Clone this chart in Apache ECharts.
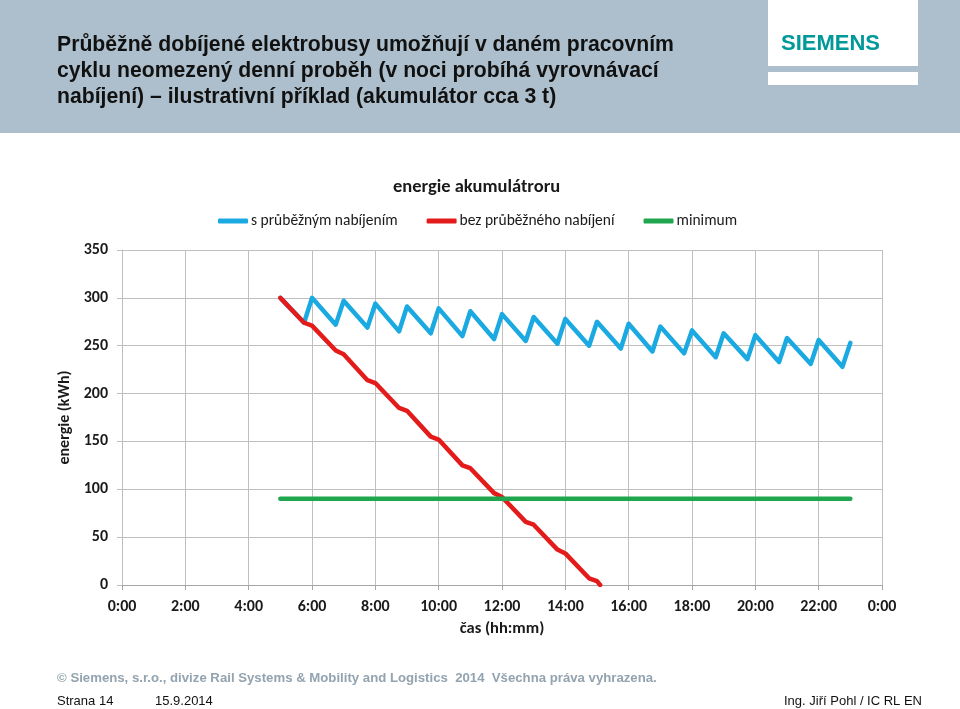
<!DOCTYPE html>
<html>
<head>
<meta charset="utf-8">
<script src="https://cdn.jsdelivr.net/npm/echarts@6/dist/echarts.min.js"></script>
<style>
  html, body { margin: 0; padding: 0; background: #fff; }
  #chart { width: 960px; height: 709px; }
</style>
</head>
<body>
<div id="chart"></div>
<script>
  // časy ve formátu h:mm, hodnoty v kWh
  const seriesNames = ['s průběžným nabíjením', 'bez průběžného nabíjení', 'minimum'];

  const blueTimes = ['5:00', '5:45', '6:00', '6:45', '7:00', '7:45', '8:00', '8:45', '9:00', '9:45',
    '10:00', '10:45', '11:00', '11:45', '12:00', '12:45', '13:00', '13:45', '14:00', '14:45',
    '15:00', '15:45', '16:00', '16:45', '17:00', '17:45', '18:00', '18:45', '19:00', '19:45',
    '20:00', '20:45', '21:00', '21:45', '22:00', '22:45', '23:00'];
  const blueValues = [300, 274, 300, 272, 297, 269, 294, 265, 291, 263,
    289, 260, 286, 257, 283, 255, 280, 252, 278, 250,
    275, 247, 273, 244, 270, 242, 266, 238, 263, 236,
    261, 233, 258, 231, 256, 228, 253];

  const redTimes = ['5:00', '5:45', '6:00', '6:45', '7:00', '7:45', '8:00', '8:45', '9:00', '9:45',
    '10:00', '10:45', '11:00', '11:45', '12:00', '12:45', '13:00', '13:45', '14:00', '14:45',
    '15:00', '15:06'];
  const redValues = [300, 274, 271, 245, 241, 214, 211, 185, 182, 155,
    152, 125, 122, 96, 92, 66, 63, 37, 33, 7,
    4, 0];

  const greenTimes = ['5:00', '23:00'];
  const greenValues = [90, 90];

  const titleLines = [
    'Průběžně dobíjené elektrobusy umožňují v daném pracovním',
    'cyklu neomezený denní proběh (v noci probíhá vyrovnávací',
    'nabíjení) – ilustrativní příklad (akumulátor cca 3 t)'
  ];

  // h:mm -> hodiny
  function toHours(t) {
    const p = t.split(':');
    return Number(p[0]) + Number(p[1]) / 60;
  }
  function pairs(times, values) {
    return times.map((t, i) => [toHours(t), values[i]]);
  }

  const chartFont = 'Carlito, Lato, sans-serif';
  const slideFont = 'Arial, "Liberation Sans", sans-serif';

  const option = {
    backgroundColor: '#fff',
    animation: false,
    textStyle: { fontFamily: chartFont },
    title: {
      text: 'energie akumulátroru',
      left: 388,
      top: 173,
      textStyle: { fontFamily: chartFont, fontSize: 18.5, fontWeight: 'bold', color: '#1a1a1a' }
    },
    legend: {
      left: 213,
      top: 208,
      icon: 'roundRect',
      itemWidth: 30,
      itemHeight: 5,
      itemGap: 29,
      textStyle: { fontFamily: chartFont, fontSize: 15.5, color: '#1a1a1a', padding: [0, 0, 0, -2] },
      data: seriesNames
    },
    grid: { left: 122, right: 78, top: 250, bottom: 124, containLabel: false },
    xAxis: {
      type: 'value',
      min: 0,
      max: 24,
      interval: 2,
      name: 'čas (hh:mm)',
      nameLocation: 'middle',
      nameGap: 35,
      nameTextStyle: { fontFamily: chartFont, fontSize: 16.5, fontWeight: 'bold', color: '#1a1a1a' },
      axisLine: { show: true, lineStyle: { color: '#a6a6a6', width: 1 } },
      axisTick: { show: true, length: 5, lineStyle: { color: '#a6a6a6' } },
      axisLabel: {
        margin: 14,
        fontFamily: chartFont, fontSize: 16, fontWeight: 'bold', color: '#1a1a1a',
        formatter: v => (v % 24) + ':00'
      },
      splitLine: { show: true, lineStyle: { color: '#bfbfbf', width: 1 } }
    },
    yAxis: {
      type: 'value',
      min: 0,
      max: 350,
      interval: 50,
      name: 'energie (kWh)',
      nameLocation: 'middle',
      nameGap: 45,
      nameTextStyle: { fontFamily: chartFont, fontSize: 16, fontWeight: 'bold', color: '#1a1a1a' },
      axisLine: { show: true, lineStyle: { color: '#bfbfbf', width: 1 } },
      axisTick: { show: true, length: 5, lineStyle: { color: '#bfbfbf' } },
      axisLabel: { margin: 14, fontFamily: chartFont, fontSize: 16, fontWeight: 'bold', color: '#1a1a1a' },
      splitLine: { show: true, lineStyle: { color: '#bfbfbf', width: 1 } }
    },
    series: [
      {
        name: seriesNames[0],
        type: 'line',
        data: pairs(blueTimes, blueValues),
        showSymbol: false,
        color: '#1aa9e1',
        lineStyle: { width: 4.5, cap: 'round', join: 'round' }
      },
      {
        name: seriesNames[1],
        type: 'line',
        data: pairs(redTimes, redValues),
        showSymbol: false,
        color: '#e31b1b',
        lineStyle: { width: 4.5, cap: 'round', join: 'round' }
      },
      {
        name: seriesNames[2],
        type: 'line',
        data: pairs(greenTimes, greenValues),
        showSymbol: false,
        color: '#1fa64f',
        lineStyle: { width: 4.5, cap: 'round', join: 'round' }
      }
    ],
    graphic: [
      // záhlaví snímku
      { type: 'rect', left: 0, top: 0, z: -10, shape: { width: 960, height: 133 }, style: { fill: '#adbfcc' } },
      { type: 'rect', left: 768, top: 0, z: -9, shape: { width: 150, height: 66 }, style: { fill: '#fff' } },
      { type: 'rect', left: 768, top: 72, z: -9, shape: { width: 150, height: 13 }, style: { fill: '#fff' } },
      {
        type: 'text', left: 781, top: 33,
        style: { text: 'SIEMENS', fill: '#009999', font: 'bold 22px ' + slideFont }
      },
      {
        type: 'text', left: 57, top: 32,
        style: {
          text: titleLines.join('\n'), fill: '#111', font: 'bold 21.2px ' + slideFont,
          lineHeight: 26
        }
      },
      // zápatí
      {
        type: 'text', left: 57, top: 672,
        style: {
          text: '© Siemens, s.r.o., divize Rail Systems & Mobility and Logistics  2014  Všechna práva vyhrazena.',
          fill: '#93a3af', font: 'bold 13.2px ' + slideFont
        }
      },
      { type: 'text', left: 57, top: 695, style: { text: 'Strana 14', fill: '#111', font: '13px ' + slideFont } },
      { type: 'text', left: 155, top: 695, style: { text: '15.9.2014', fill: '#111', font: '13px ' + slideFont } },
      { type: 'text', right: 38, top: 695, style: { text: 'Ing. Jiří Pohl / IC RL EN', fill: '#111', font: '13px ' + slideFont } }
    ]
  };

  const chartObj = echarts.init(document.getElementById('chart'));
  chartObj.setOption(option);
</script>
</body>
</html>
